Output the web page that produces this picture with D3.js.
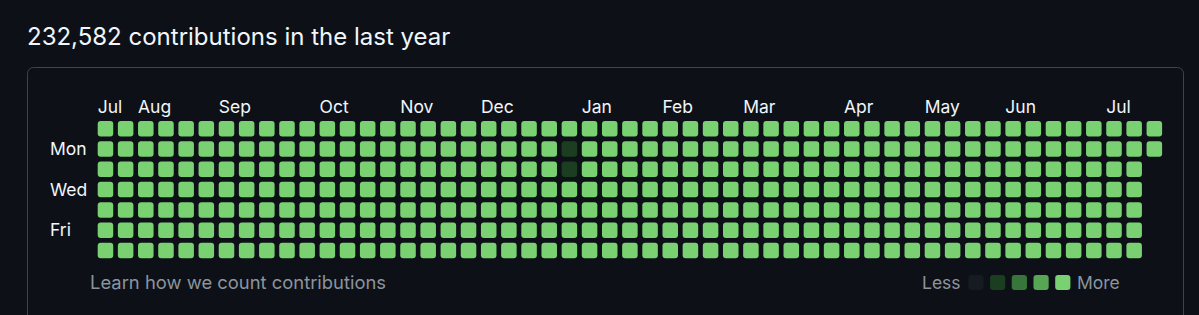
<!DOCTYPE html>
<html>
<head>
<meta charset="utf-8">
<script src="https://cdn.jsdelivr.net/npm/d3@7"></script>
<style>
  html, body { margin: 0; padding: 0; background: #0d1117; }
  svg { display: block; }
</style>
</head>
<body>
<svg id="chart" width="1199" height="315"></svg>
<script>
const title = '232,582 contributions in the last year'

// one string per week column, one digit per day (Sun..Sat), contribution level 0-4
const weekLevels = [
  '4444444', '4444444', '4444444', '4444444', '4444444', '4444444', '4444444',
  '4444444', '4444444', '4444444', '4444444', '4444444', '4444444', '4444444',
  '4444444', '4444444', '4444444', '4444444', '4444444', '4444444', '4444444',
  '4444444', '4444444', '4114444', '4444444', '4444444', '4444444', '4444444',
  '4444444', '4444444', '4444444', '4444444', '4444444', '4444444', '4444444',
  '4444444', '4444444', '4444444', '4444444', '4444444', '4444444', '4444444',
  '4444444', '4444444', '4444444', '4444444', '4444444', '4444444', '4444444',
  '4444444', '4444444', '4444444', '44',
]

const monthLabels = ['Jul', 'Aug', 'Sep', 'Oct', 'Nov', 'Dec', 'Jan', 'Feb', 'Mar', 'Apr', 'May', 'Jun', 'Jul']
const monthStartWeek = [0, 2, 6, 11, 15, 19, 24, 28, 32, 37, 41, 45, 50]

const dayLabels = ['', 'Mon', '', 'Wed', '', 'Fri', '']

const levelColors = ['#161b22', '#1b3d20', '#38753b', '#56a653', '#79d172']

const font = 'Inter, "Noto Sans", sans-serif'
const svg = d3.select('#chart')

// title
svg.append('text')
  .attr('x', 27)
  .attr('y', 45)
  .attr('fill', '#f0f6fc')
  .attr('font-family', font)
  .attr('font-size', 24)
  .text(title)

// outer box (runs off the bottom of the picture)
svg.append('rect')
  .attr('x', 27.5)
  .attr('y', 67.5)
  .attr('width', 1156)
  .attr('height', 300)
  .attr('rx', 6)
  .attr('fill', 'none')
  .attr('stroke', '#3d444d')

// flatten weeks into cells
const cells = weekLevels.flatMap((w, wi) =>
  w.split('').map((lv, di) => ({ week: wi, day: di, level: +lv }))
)

const x = d3.scaleBand()
  .domain(d3.range(weekLevels.length))
  .range([97.7, 1162.1])
  .paddingInner(0.23)

const y = d3.scaleBand()
  .domain(d3.range(7))
  .range([121, 258.2])
  .paddingInner(0.236)

const color = d3.scaleOrdinal().domain(d3.range(5)).range(levelColors)

svg.append('g')
  .attr('id', 'cells')
  .selectAll('rect')
  .data(cells)
  .join('rect')
  .attr('x', (d) => x(d.week))
  .attr('y', (d) => y(d.day))
  .attr('width', x.bandwidth())
  .attr('height', y.bandwidth())
  .attr('rx', 3)
  .attr('fill', (d) => color(d.level))

// month labels
svg.append('g')
  .attr('font-family', font)
  .attr('font-size', 17.5)
  .attr('fill', '#f0f6fc')
  .selectAll('text')
  .data(monthLabels)
  .join('text')
  .attr('x', (d, i) => x(monthStartWeek[i]))
  .attr('y', 112.5)
  .text((d) => d)

// weekday labels
svg.append('g')
  .attr('font-family', font)
  .attr('font-size', 17.5)
  .attr('fill', '#f0f6fc')
  .selectAll('text')
  .data(dayLabels)
  .join('text')
  .attr('x', 50)
  .attr('y', (d, i) => y(i) + y.bandwidth() / 2 + 6)
  .text((d) => d)

// footer
const footer = svg.append('g')
  .attr('font-family', font)
  .attr('font-size', 17.5)
  .attr('fill', '#8b949e')

footer.append('text')
  .attr('x', 90)
  .attr('y', 289)
  .attr('font-size', 18.4)
  .text('Learn how we count contributions')

footer.append('text')
  .attr('x', 922)
  .attr('y', 289)
  .text('Less')

footer.append('text')
  .attr('x', 1077)
  .attr('y', 289)
  .text('More')

const lx = d3.scaleBand()
  .domain(d3.range(levelColors.length))
  .range([968.3, 1070.4])
  .paddingInner(0.3)

footer.append('g')
  .selectAll('rect')
  .data(d3.range(levelColors.length))
  .join('rect')
  .attr('x', (d) => lx(d))
  .attr('y', 275)
  .attr('width', lx.bandwidth())
  .attr('height', 15)
  .attr('rx', 3)
  .attr('fill', (d) => color(d))
</script>
</body>
</html>
